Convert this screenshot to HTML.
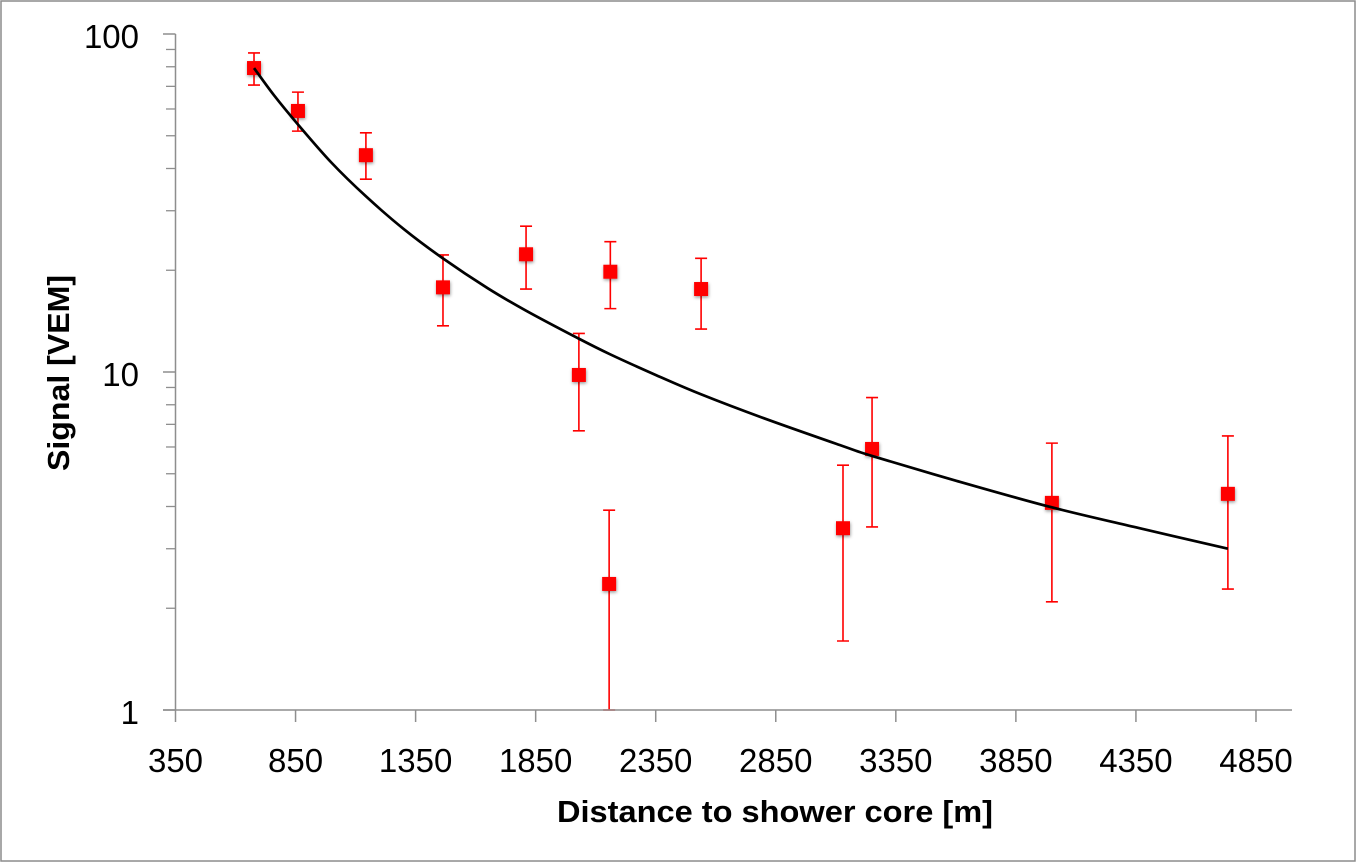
<!DOCTYPE html>
<html lang="en">
<head>
<meta charset="utf-8">
<title>Signal vs distance to shower core</title>
<style>
  html, body { margin: 0; padding: 0; background: #fff; }
  svg { display: block; }
  text { font-family: "Liberation Sans", sans-serif; fill: #000; }
</style>
</head>
<body>
<svg id="chart" xmlns="http://www.w3.org/2000/svg" width="1357" height="863" viewBox="0 0 1357 863">
  <defs>
    <filter id="marker-shadow" x="-40%" y="-40%" width="180%" height="180%">
      <feDropShadow dx="0.5" dy="1.5" stdDeviation="1.6" flood-color="#000" flood-opacity="0.4"/>
    </filter>
  </defs>
  <rect x="1" y="1" width="1354" height="860" fill="#fff" stroke="#8c8c8c" stroke-width="1.5"/>
  <g id="series-layer"></g>
  <g id="axis-layer"></g>
  <text x="557" y="822" font-size="31" font-weight="bold" textLength="436" lengthAdjust="spacingAndGlyphs">Distance to shower core [m]</text>
  <text transform="translate(69 471) rotate(-90)" font-size="31" font-weight="bold" textLength="196" lengthAdjust="spacingAndGlyphs">Signal [VEM]</text>
</svg>
<script>
const pointDistance = [677, 860, 1143, 1464, 1810, 2030, 2161, 2156, 2539, 3130, 3251, 4000, 4733];
const pointSignal = [79.3, 59.2, 43.8, 17.8, 22.3, 9.8, 19.8, 2.36, 17.6, 3.45, 5.92, 4.1, 4.36];
const errorHigh = [87.9, 67.3, 51, 22.2, 27, 13, 24.3, 3.9, 21.7, 5.3, 8.4, 6.16, 6.47];
const errorLow = [70.6, 51.6, 37.2, 13.7, 17.6, 6.7, 15.4, 1, 13.4, 1.6, 3.48, 2.09, 2.28];
const fitDistance = [677, 760, 860, 1000, 1143, 1300, 1463, 1650, 1809, 2025, 2158, 2350, 2537, 2800, 3128, 3249, 3600, 3998, 4350, 4733];
const fitSignal = [79.3, 65.9, 54.0, 41.6, 33.1, 26.5, 21.7, 17.7, 15.2, 12.6, 11.3, 9.8, 8.6, 7.3, 6.04, 5.65, 4.77, 3.98, 3.47, 3.0];
const xTickLabels = [350, 850, 1350, 1850, 2350, 2850, 3350, 3850, 4350, 4850];
const yDecadeLabels = [100, 10, 1];
const yMinorTicks = [2, 3, 4, 5, 6, 7, 8, 9, 20, 30, 40, 50, 60, 70, 80, 90];

const SVG_NS = 'http://www.w3.org/2000/svg';
const xMin = 350, xMax = 5000;
const plotLeft = 175.5, plotRight = 1292, plotTop = 34, plotBottom = 710;

function xScale(v) {
  return plotLeft + (v - xMin) * (plotRight - plotLeft) / (xMax - xMin);
}
function yScale(v) {
  return plotBottom - Math.log10(v) * (plotBottom - plotTop) / 2;
}
function make(tag, parent, attrs) {
  const el = document.createElementNS(SVG_NS, tag);
  for (const key in attrs) el.setAttribute(key, attrs[key]);
  parent.appendChild(el);
  return el;
}

const seriesLayer = document.getElementById('series-layer');
const axisLayer = document.getElementById('axis-layer');
const RED = '#ff0000', AXIS = '#8e8e8e';

pointDistance.forEach(function (d, i) {
  const cx = xScale(d);
  const top = yScale(errorHigh[i]);
  const bottom = yScale(errorLow[i]);
  const bar = make('path', seriesLayer, {
    d: 'M' + cx + ' ' + top + 'V' + bottom +
       'M' + (cx - 6) + ' ' + top + 'H' + (cx + 6) +
       'M' + (cx - 6) + ' ' + bottom + 'H' + (cx + 6),
    fill: 'none', stroke: RED, 'stroke-width': 1.6
  });
  
  
});

pointDistance.forEach(function (d, i) {
  const marker = make('rect', seriesLayer, {
    x: xScale(d) - 7, y: yScale(pointSignal[i]) - 7, width: 14, height: 14,
    fill: RED, filter: 'url(#marker-shadow)'
  });
  
  
});

function curvePath(xs, ys) {
  const pts = xs.map(function (x, i) { return [xScale(x), yScale(ys[i])]; });
  let d = 'M' + pts[0][0] + ' ' + pts[0][1];
  for (let i = 0; i < pts.length - 1; i++) {
    const p0 = pts[Math.max(i - 1, 0)], p1 = pts[i], p2 = pts[i + 1];
    const p3 = pts[Math.min(i + 2, pts.length - 1)];
    d += 'C' + (p1[0] + (p2[0] - p0[0]) / 6) + ' ' + (p1[1] + (p2[1] - p0[1]) / 6) + ' ' +
         (p2[0] - (p3[0] - p1[0]) / 6) + ' ' + (p2[1] - (p3[1] - p1[1]) / 6) + ' ' +
         p2[0] + ' ' + p2[1];
  }
  return d;
}
const fitLine = make('path', seriesLayer, {
  d: curvePath(fitDistance, fitSignal),
  fill: 'none', stroke: '#000', 'stroke-width': 2.7, 'stroke-linejoin': 'round'
});



const yAxisLine = make('line', axisLayer, { x1: plotLeft, x2: plotLeft, y1: plotTop, y2: plotBottom, stroke: AXIS, 'stroke-width': 1.5 });


const xAxisLine = make('line', axisLayer, { x1: 163, x2: plotRight, y1: plotBottom, y2: plotBottom, stroke: AXIS, 'stroke-width': 1.5 });



xTickLabels.forEach(function (v) {
  const x = xScale(v);
  const tick = make('line', axisLayer, { x1: x, x2: x, y1: plotBottom, y2: 722, stroke: AXIS, 'stroke-width': 1.5 });
  
  
  const label = make('text', axisLayer, { x: x, y: 772, 'font-size': 33, 'text-anchor': 'middle' });
  label.textContent = String(v);
  
  
});

yDecadeLabels.forEach(function (v) {
  const y = yScale(v);
  const tick = make('line', axisLayer, { x1: 163, x2: plotLeft, y1: y, y2: y, stroke: AXIS, 'stroke-width': 1.5 });
  
  
  const label = make('text', axisLayer, { x: 139, y: y + 14, 'font-size': 33, 'text-anchor': 'end' });
  label.textContent = String(v);
  
  
});

yMinorTicks.forEach(function (v) {
  const y = yScale(v);
  const tick = make('line', axisLayer, { x1: 166, x2: plotLeft, y1: y, y2: y, stroke: AXIS, 'stroke-width': 1.3 });
  
  
});
</script>
</body>
</html>
